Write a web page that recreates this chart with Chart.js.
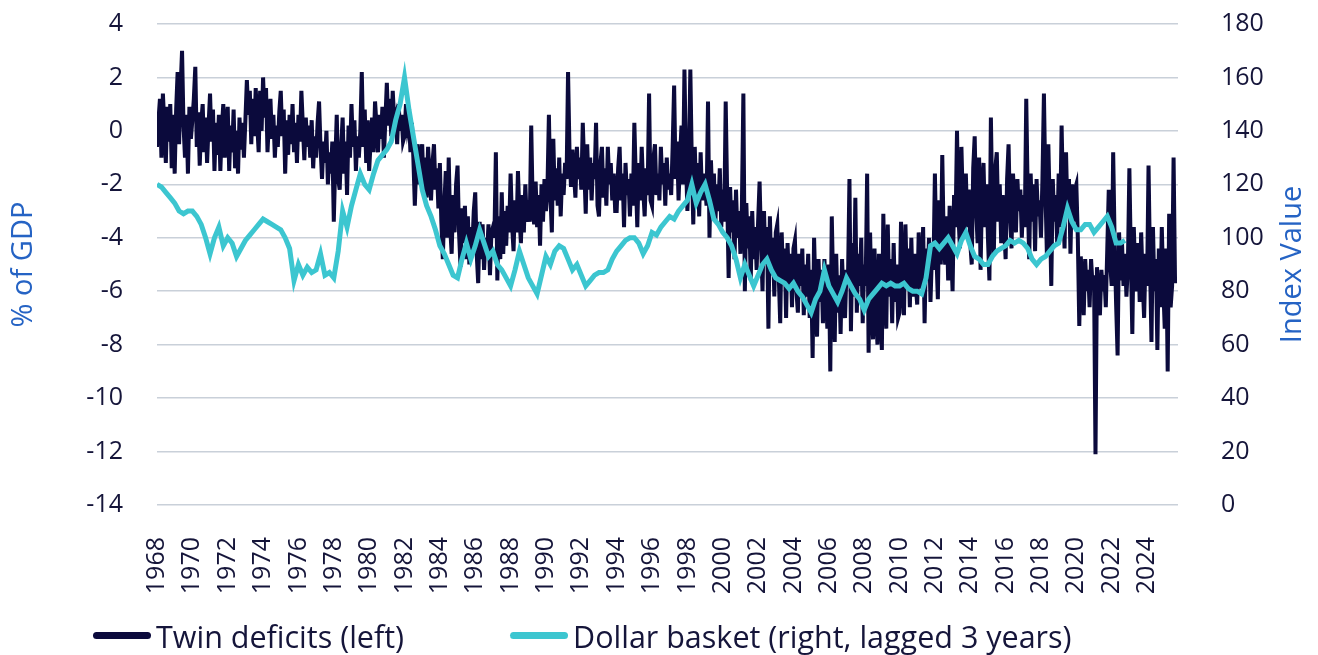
<!DOCTYPE html>
<html>
<head>
<meta charset="utf-8">
<script src="https://cdn.jsdelivr.net/npm/chart.js@4.4.0/dist/chart.umd.min.js"></script>
<style>
  html, body { margin: 0; padding: 0; background: #fff; }
  #wrap { position: relative; width: 1318px; height: 655px; }
  #legend { position: absolute; left: 0; top: 616px; width: 1318px; height: 40px;
            font-family: "Open Sans", sans-serif; font-size: 30.5px; color: #15153a; }
  #legend .item { position: absolute; top: 0; height: 40px; line-height: 40px; white-space: nowrap; }
  #legend .item i { position: absolute; top: 16px; width: 58px; height: 7px; border-radius: 4px; }
  #legend .item span { position: absolute; left: 63px; top: 0; }
</style>
</head>
<body>
<div id="wrap">
  <canvas id="chart" width="1318" height="655"></canvas>
  <div id="legend"></div>
</div>
<script>
// monthly, starting Jan 1968 (% of GDP)
const twinStart = 1968;
const twinDeficits = [
  -0.6, 0.4, 1.2, -1.0, 1.4, 0.2, -1.2, 0.9, -0.4, 1.0, -1.4, 0.6,      // 1968
  -1.6, 0.8, 2.2, -0.5, 1.6, 3.0, 0.2, -1.0, 0.6, -1.6, 0.9, -0.3,      // 1969
  0.4, 1.2, 2.4, -0.6, 0.7, -1.3, 0.3, 1.0, -0.8, 0.5, -1.2, 0.2,       // 1970
  1.4, -0.4, 0.8, -1.5, 0.3, -0.9, 0.6, -1.5, 0.1, 1.0, -1.0, 0.3,      // 1971
  0.9, -1.5, 0.2, -0.8, 0.8, -1.4, 0.0, -1.6, 0.5, -0.7, 0.3, -1.0,     // 1972
  0.4, 1.9, 0.6, 1.5, -0.5, 1.2, -0.2, 1.6, 0.3, -0.8, 1.5, 0.0,        // 1973
  2.0, 0.5, 1.6, -0.8, 0.4, 1.2, -0.3, 0.6, -1.0, 0.2, -0.6, 0.7,       // 1974
  1.5, -0.2, 0.8, -1.6, 0.4, -0.9, 0.6, -0.5, 1.0, -0.8, 0.3, -1.2,     // 1975
  0.6, -0.4, 1.5, 0.2, -1.1, 0.5, -0.6, 0.2, -1.0, 0.4, -1.4, -0.2,     // 1976
  -1.0, 0.3, 1.1, -0.6, -1.8, -0.4, -1.2, 0.0, -2.0, -0.8, -1.6, -0.4,  // 1977
  -3.4, -1.2, 0.6, -1.8, -2.2, -0.6, 0.5, -1.6, -0.4, -2.4, 0.2, -1.0,  // 1978
  1.0, -0.6, 0.4, -1.5, -0.2, -1.0, 0.0, 2.2, -0.6, 0.8, -1.2, 0.4,     // 1979
  -1.5, -0.4, 0.5, -0.8, 1.1, 0.2, -0.8, 0.6, -0.3, 0.9, -1.0, 0.4,     // 1980
  1.8, 0.2, 1.2, -0.2, 1.5, 0.4, 0.6, -0.5, 1.0, 0.0, 0.6, -0.4,        // 1981
  -0.2, 1.0, 0.2, 0.6, -0.8, 0.3, -1.0, -2.8, -1.2, -0.5, -2.0, -1.0,   // 1982
  -0.5, -2.3, -1.0, -2.5, -0.6, -1.6, -2.6, -1.2, -0.5, -2.2, -1.4, -2.9, // 1983
  -1.2, -3.4, -4.8, -2.8, -1.5, -4.0, -1.0, -3.6, -4.6, -2.4, -3.8, -2.0, // 1984
  -1.3, -3.8, -5.1, -2.9, -4.2, -2.8, -4.8, -3.2, -5.0, -3.6, -4.4, -3.0, // 1985
  -2.3, -4.6, -5.7, -3.4, -4.8, -3.5, -5.2, -4.0, -4.6, -3.5, -5.4, -3.8, // 1986
  -3.6, -4.0, -0.8, -5.6, -3.2, -4.8, -2.3, -4.6, -3.0, -4.3, -2.8, -3.8, // 1987
  -1.6, -3.5, -4.5, -2.6, -3.8, -1.5, -3.2, -4.2, -2.4, -3.8, -2.0, -3.4, // 1988
  -2.6, -3.4, 0.2, -2.8, -3.5, -1.9, -3.6, -2.4, -4.3, -2.0, -3.4, -1.8,  // 1989
  -3.0, -2.2, 0.6, -2.4, -3.8, -0.3, -2.6, -1.4, -2.8, -1.0, -3.2, -1.6,  // 1990
  -2.4, -1.2, -1.8, 2.2, -0.8, -2.1, -0.7, -1.6, -2.5, -0.6, -1.8, -1.0,  // 1991
  -2.2, 0.3, -1.4, -3.1, -0.5, -2.2, -1.0, -2.6, -1.2, -1.8, 0.3, -2.8,   // 1992
  -3.2, -1.2, -0.6, -2.5, -1.4, -2.8, -0.6, -2.0, -1.2, -2.6, -1.6, -3.0, // 1993
  -3.0, -1.4, -0.6, -2.6, -1.6, -3.6, -1.2, -2.4, -1.8, -3.2, -1.6, -2.8, // 1994
  0.3, -1.8, -3.6, -1.2, -2.6, -0.6, -2.2, -3.2, -1.4, -2.4, 1.4, -2.6,   // 1995
  -2.8, -1.0, -0.5, -2.4, -1.6, -2.6, -0.6, -2.0, -1.2, -2.8, -1.0, -2.2, // 1996
  -1.6, -2.4, -0.6, 1.7, -1.8, -0.4, -2.6, -1.0, 0.2, -2.0, 2.3, -1.0,    // 1997
  -3.0, -1.4, 2.3, -1.2, -3.5, -0.6, -2.4, -1.2, -3.2, -0.8, -2.6, -1.6,  // 1998
  -2.0, -2.8, 1.1, -4.0, -1.1, -2.8, -1.6, -3.4, -2.0, -3.0, -1.4, -3.6,  // 1999
  -2.2, -3.4, 1.1, -2.4, -5.5, -2.1, -3.8, -2.6, -4.8, -2.2, -4.0, -3.0,  // 2000
  -4.6, -2.8, 1.4, -6.0, -2.7, -4.4, -3.2, -5.6, -3.0, -4.8, -3.6, -5.2,  // 2001
  -3.4, -1.9, -4.2, -6.0, -3.0, -5.0, -3.6, -7.4, -3.2, -5.4, -4.0, -6.2, // 2002
  -3.8, -3.5, -5.4, -7.2, -3.8, -5.6, -4.4, -7.0, -4.2, -5.8, -4.6, -6.6, // 2003
  -4.4, -4.1, -6.0, -6.8, -4.6, -5.8, -4.4, -6.9, -5.0, -6.2, -4.6, -7.0, // 2004
  -5.2, -8.5, -4.0, -6.2, -7.7, -4.8, -6.4, -5.2, -7.2, -4.8, -6.0, -7.4, // 2005
  -5.0, -9.0, -3.2, -6.0, -7.9, -4.6, -6.8, -5.4, -7.6, -4.8, -6.4, -7.0, // 2006
  -5.2, -5.6, -1.8, -7.5, -4.2, -6.2, -2.5, -6.8, -4.6, -5.8, -4.0, -7.2, // 2007
  -5.0, -5.8, -1.6, -8.3, -3.8, -6.4, -7.8, -4.4, -6.6, -8.0, -4.6, -6.8, // 2008
  -8.2, -3.1, -6.0, -7.4, -3.5, -6.2, -4.8, -7.2, -4.2, -6.4, -5.0, -7.0, // 2009
  -6.8, -3.4, -5.6, -6.9, -3.5, -5.8, -4.4, -6.6, -4.0, -6.2, -4.6, -5.8, // 2010
  -6.5, -3.8, -5.4, -5.9, -3.6, -7.2, -4.4, -5.6, -4.0, -6.4, -4.6, -5.2, // 2011
  -1.6, -4.6, -6.3, -2.6, -5.0, -0.9, -4.2, -5.0, -3.2, -5.6, -2.8, -4.4, // 2012
  -6.0, -2.4, -3.6, 0.0, -3.2, -4.4, -0.6, -2.8, -4.0, -1.6, -3.6, -2.2,  // 2013
  -4.2, -5.0, -1.4, -0.2, -3.0, -4.2, -1.0, -5.2, -2.2, -1.2, -3.6, -2.0, // 2014
  -4.0, -5.6, 0.5, -3.0, -4.6, -1.4, -0.8, -3.4, -2.0, -4.2, -2.4, -3.6,  // 2015
  -4.8, -1.8, -0.5, -3.2, -4.4, -1.6, -2.6, -3.8, -1.8, -3.0, -2.2, -4.0, // 2016
  -2.4, -3.6, 1.2, -2.4, -4.8, -1.6, -3.4, -2.0, -4.5, -1.8, -3.2, -2.6,  // 2017
  -4.0, -1.8, 1.4, -2.2, -4.6, -0.5, -3.0, -5.8, -1.8, -3.4, -2.4, -4.2,  // 2018
  -1.6, -3.6, 0.2, -2.6, -4.4, -0.8, -3.2, -1.8, -4.6, -2.0, -3.4, -2.2,  // 2019
  -2.0, -4.0, -7.3, -4.7, -5.6, -6.9, -4.8, -6.0, -5.2, -6.6, -4.8, -5.8, // 2020
  -5.4, -12.1, -5.1, -6.4, -6.9, -5.2, -6.0, -5.4, -6.6, -4.4, -2.2, -5.0, // 2021
  -5.8, -0.8, -4.2, -6.5, -8.4, -3.8, -5.6, -4.2, -5.8, -4.6, -6.2, -5.0, // 2022
  -1.4, -4.8, -7.6, -3.6, -5.4, -6.0, -4.2, -6.4, -3.8, -5.6, -7.0, -4.6, // 2023
  -5.8, -1.3, -5.0, -7.9, -3.6, -6.0, -4.8, -8.2, -4.4, -6.6, -3.6, -5.8, // 2024
  -7.4, -4.4, -9.0, -3.1, -6.6, -5.8, -1.0, -5.7                          // 2025
];

// quarterly, starting Q1 1968 (index, lagged 3 years)
const dollarStart = 1968;
const dollarBasket = [
  120, 119, 117, 115,  // 1968
  113, 110, 109, 110,  // 1969
  110, 108, 105, 100,  // 1970
  94, 100, 104, 97,    // 1971
  100, 98, 93, 96,     // 1972
  99, 101, 103, 105,   // 1973
  107, 106, 105, 104,  // 1974
  103, 100, 96, 84,    // 1975
  90, 86, 89, 87,      // 1976
  88, 94, 86, 87,      // 1977
  85, 95, 110, 104,    // 1978
  112, 118, 124, 120,  // 1979
  118, 124, 129, 131,  // 1980
  133, 136, 144, 150,  // 1981
  160, 148, 138, 128,  // 1982
  118, 112, 108, 103,  // 1983
  97, 94, 90, 86,      // 1984
  85, 92, 98, 92,      // 1985
  97, 103, 98, 93,     // 1986
  95, 90, 88, 85,      // 1987
  82, 88, 95, 90,      // 1988
  85, 82, 79, 86,      // 1989
  93, 90, 95, 97,      // 1990
  96, 92, 88, 90,      // 1991
  86, 82, 84, 86,      // 1992
  87, 87, 88, 92,      // 1993
  95, 97, 99, 100,     // 1994
  100, 98, 94, 97,     // 1995
  102, 101, 104, 106,  // 1996
  108, 107, 110, 112,  // 1997
  114, 120, 113, 117,  // 1998
  120, 114, 107, 105,  // 1999
  102, 100, 97, 92,    // 2000
  85, 90, 86, 82,      // 2001
  86, 90, 92, 88,      // 2002
  85, 84, 83, 81,      // 2003
  83, 80, 78, 75,      // 2004
  72, 77, 80, 88,      // 2005
  82, 79, 76, 80,      // 2006
  85, 82, 79, 77,      // 2007
  73, 77, 79, 81,      // 2008
  83, 82, 83, 82,      // 2009
  82, 83, 81, 80,      // 2010
  80, 79, 85, 97,      // 2011
  98, 96, 98, 100,     // 2012
  97, 94, 99, 102,     // 2013
  97, 93, 92, 90,      // 2014
  90, 93, 95, 96,      // 2015
  97, 99, 98, 99,      // 2016
  98, 96, 92, 90,      // 2017
  92, 93, 95, 97,      // 2018
  98, 104, 111, 106,   // 2019
  103, 103, 105, 105,  // 2020
  102, 104, 106, 108,  // 2021
  104, 98, 98, 99      // 2022
];

const leftTicks = { min: -14, max: 4, step: 2 };
const rightTicks = { min: 0, max: 180, step: 20 };
const xRange = { min: 1968, max: 2025.75, step: 2 };

const navy = '#0b0a3c';
const cyan = '#3cc6d0';
const titleBlue = '#2563c4';
const textColor = '#15153a';
const gridColor = '#c9d0d9';

function toPoints(start, values, perYear) {
  return values.map((v, i) => ({ x: start + i / perYear, y: v }));
}

Chart.defaults.font.family = '"Open Sans", sans-serif';
Chart.defaults.color = textColor;

// axis titles, both reading bottom-to-top
const axisTitles = {
  id: 'axisTitles',
  afterDraw(chart) {
    const ctx = chart.ctx;
    const midY = (chart.chartArea.top + chart.chartArea.bottom) / 2;
    ctx.save();
    ctx.fillStyle = titleBlue;
    ctx.font = '29px "Open Sans", sans-serif';
    ctx.textAlign = 'center';
    ctx.textBaseline = 'middle';
    [['% of GDP', 24], ['Index Value', 1293]].forEach(([txt, x]) => {
      ctx.save();
      ctx.translate(x, midY);
      ctx.rotate(-Math.PI / 2);
      ctx.fillText(txt, 0, 0);
      ctx.restore();
    });
    ctx.restore();
  }
};

// fixed axis sizes so the plot area lands where the original has it
function fixSize(w, h) {
  return (s) => {
    if (w) s.width = w;
    if (h) s.height = h;
    s.paddingTop = 0;
    s.paddingBottom = 0;
  };
}

const ctx = document.getElementById('chart').getContext('2d');
const chart = new Chart(ctx, {
  type: 'line',
  data: {
    datasets: [
      {
        label: 'Twin deficits (left)',
        data: toPoints(twinStart, twinDeficits, 12),
        borderColor: navy,
        backgroundColor: navy,
        borderWidth: 4,
        pointRadius: 0,
        yAxisID: 'y',
        order: 1
      },
      {
        label: 'Dollar basket (right, lagged 3 years)',
        data: toPoints(dollarStart, dollarBasket, 4),
        borderColor: cyan,
        backgroundColor: cyan,
        borderWidth: 5,
        pointRadius: 0,
        yAxisID: 'y2',
        order: 0
      }
    ]
  },
  options: {
    responsive: false,
    animation: false,
    layout: { padding: { top: 24, left: 0, right: 0, bottom: 0 } },
    plugins: {
      legend: { display: false },
      tooltip: { enabled: false }
    },
    scales: {
      x: {
        type: 'linear',
        min: xRange.min,
        max: xRange.max,
        grid: { display: false },
        border: { display: false },
        ticks: {
          stepSize: xRange.step,
          includeBounds: false,
          autoSkip: false,
          minRotation: 90,
          maxRotation: 90,
          padding: 24,
          font: { size: 25 },
          callback: (v) => (v % 2 === 0 ? String(v) : '')
        },
        afterFit: fixSize(0, 150)
      },
      y: {
        position: 'left',
        min: leftTicks.min,
        max: leftTicks.max,
        grid: { color: gridColor, lineWidth: 1.5, drawTicks: false },
        border: { display: false },
        ticks: { stepSize: leftTicks.step, padding: 34, font: { size: 25 } },
        afterFit: fixSize(157, 0)
      },
      y2: {
        position: 'right',
        min: rightTicks.min,
        max: rightTicks.max,
        grid: { display: false },
        border: { display: false },
        ticks: { stepSize: rightTicks.step, padding: 35, font: { size: 25 } },
        afterFit: fixSize(140, 0)
      }
    }
  },
  plugins: [axisTitles]
});

// legend below the chart, built from the datasets
const legendPos = [93, 510];
const legend = document.getElementById('legend');
chart.data.datasets.forEach((ds, i) => {
  const item = document.createElement('div');
  item.className = 'item';
  item.style.left = legendPos[i] + 'px';
  const line = document.createElement('i');
  line.style.background = ds.borderColor;
  const txt = document.createElement('span');
  txt.textContent = ds.label;
  item.appendChild(line);
  item.appendChild(txt);
  legend.appendChild(item);
});
</script>
</body>
</html>
